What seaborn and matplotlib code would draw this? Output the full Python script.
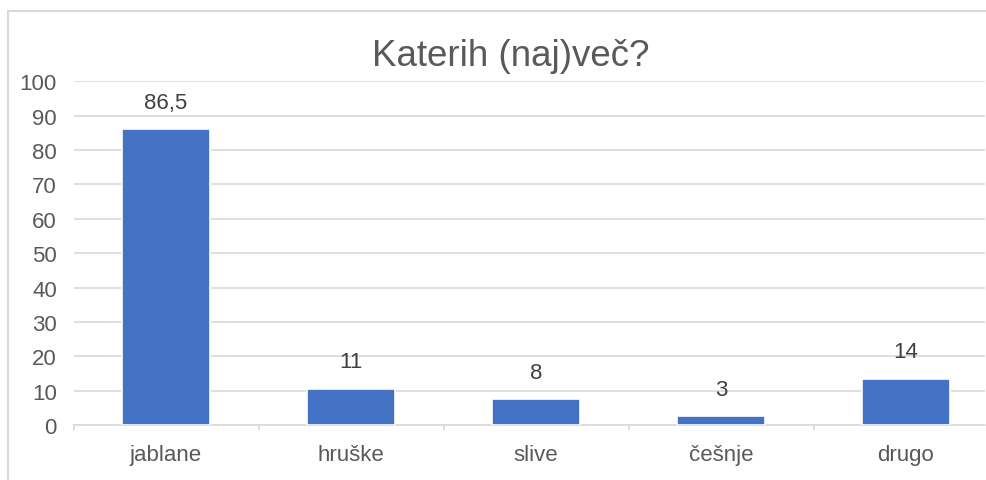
import matplotlib
matplotlib.use("Agg")
import matplotlib.pyplot as plt
import seaborn as sns
import pandas as pd
from matplotlib.lines import Line2D

categories = ["jablane", "hruške", "slive", "češnje", "drugo"]
values = [86.0, 10.5, 7.5, 2.5, 13.5]
value_labels = ["86,5", "11", "8", "3", "14"]
yticks = [0, 10, 20, 30, 40, 50, 60, 70, 80, 90, 100]
title = "Katerih (naj)več?"

sns.set_theme(style="white")
plt.rcParams['font.family'] = ['Liberation Sans', 'DejaVu Sans']

W, H = 986, 481
fig = plt.figure(figsize=(W / 100, H / 100), dpi=100)
fig.patch.set_facecolor("white")
fig.patch.set_edgecolor("none")

# chart border (left and top only visible)
bx, by = 8 / W, 1 - 12 / H
fig.add_artist(Line2D([bx, bx], [0, by], transform=fig.transFigure,
                      color="#d9d9d9", linewidth=1.5))
fig.add_artist(Line2D([bx, 1.0], [by, by], transform=fig.transFigure,
                      color="#d9d9d9", linewidth=1.5))

x0, x1 = 73.5, 985
yb, yt = 426, 82.3
ax = fig.add_axes([x0 / W, (H - yb) / H, (x1 - x0) / W, (yb - yt) / H])

df = pd.DataFrame({"cat": categories, "val": values})
sns.barplot(data=df, x="cat", y="val", color="#4472c4", saturation=1,
            width=0.475, ax=ax, zorder=3, edgecolor="white", linewidth=1.2)

ax.set_xlim(-0.5, (x1 - x0) / 185 - 0.5)
ax.set_ylim(0, 100)
ax.set_yticks(yticks)
ax.set_yticklabels([str(v) for v in yticks])
ax.yaxis.grid(True, color="#d9d9d9", linewidth=1.2, zorder=0)
ax.set_axisbelow(True)
for s in ["top", "right", "left"]:
    ax.spines[s].set_visible(False)
ax.spines["bottom"].set_color("#d9d9d9")
ax.spines["bottom"].set_linewidth(1.2)
ax.set_xlabel("")
ax.set_ylabel("")

ax.tick_params(axis="y", length=0, labelsize=16, labelcolor="#595959", pad=12)
ax.tick_params(axis="x", length=0, labelsize=16, labelcolor="#595959", pad=14)

# boundary tick marks
for b in [-0.5, 0.5, 1.5, 2.5, 3.5]:
    ax.plot([b, b], [0, -1.6], color="#d9d9d9", lw=1.2, clip_on=False, zorder=2)

for i, (v, lab) in enumerate(zip(values, value_labels)):
    ax.annotate(lab, (i, v), xytext=(0, 27), textcoords="offset pixels",
                ha="center", va="center", fontsize=16, color="#404040")

fig.text(511 / W, 1 - 56 / H, title, ha="center", va="center",
         fontsize=26.5, color="#595959")

fig.savefig("out.png", dpi=100, facecolor="white")
